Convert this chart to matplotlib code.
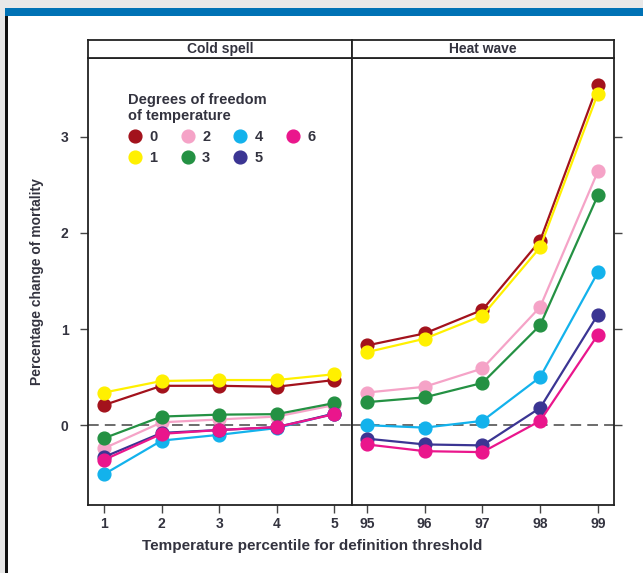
import matplotlib
matplotlib.use("Agg")
import matplotlib.pyplot as plt
from matplotlib.lines import Line2D
from matplotlib.patches import Rectangle

plt.rcParams['font.family'] = ['Liberation Sans', 'DejaVu Sans']
plt.rcParams['font.weight'] = 'bold'
plt.rcParams['axes.labelweight'] = 'bold'

# percentile thresholds for each event type
cold_x = [1, 2, 3, 4, 5]
heat_x = [95, 96, 97, 98, 99]

# degrees of freedom of temperature and their colours
df_labels = ['0', '1', '2', '3', '4', '5', '6']
colors = ['#a3121c', '#fff000', '#f5a3c7', '#249143', '#13b2ec', '#3b3593', '#ea168c']

# percentage change of mortality, cold spell
cold_0 = [0.21, 0.41, 0.41, 0.40, 0.47]
cold_1 = [0.34, 0.46, 0.47, 0.47, 0.53]
cold_2 = [-0.24, 0.03, 0.06, 0.09, 0.21]
cold_3 = [-0.135, 0.09, 0.11, 0.115, 0.23]
cold_4 = [-0.51, -0.16, -0.10, -0.03, 0.12]
cold_5 = [-0.33, -0.08, -0.05, -0.02, 0.12]
cold_6 = [-0.36, -0.09, -0.05, -0.02, 0.115]

# percentage change of mortality, heat wave
heat_0 = [0.83, 0.955, 1.20, 1.92, 3.54]
heat_1 = [0.76, 0.90, 1.14, 1.85, 3.45]
heat_2 = [0.34, 0.40, 0.59, 1.23, 2.64]
heat_3 = [0.24, 0.29, 0.44, 1.04, 2.39]
heat_4 = [0.00, -0.025, 0.045, 0.50, 1.59]
heat_5 = [-0.14, -0.20, -0.21, 0.18, 1.15]
heat_6 = [-0.20, -0.27, -0.28, 0.045, 0.94]

cold = [cold_0, cold_1, cold_2, cold_3, cold_4, cold_5, cold_6]
heat = [heat_0, heat_1, heat_2, heat_3, heat_4, heat_5, heat_6]

txt = '#33333f'
W, H = 643, 573
fig = plt.figure(figsize=(W / 100, H / 100), dpi=100, facecolor='#e8e8e8')

# page frame: white panel, blue top band, black left rule
fig.patches.append(Rectangle((8 / W, 0), 1, 1 - 16 / H, transform=fig.transFigure,
                             facecolor='white', edgecolor='none', zorder=-10))
fig.patches.append(Rectangle((5 / W, 1 - 16 / H), 1, 8 / H, transform=fig.transFigure,
                             facecolor='#0072b5', edgecolor='none', zorder=-10))
fig.patches.append(Rectangle((5 / W, 0), 3 / W, 1 - 16 / H, transform=fig.transFigure,
                             facecolor='#111111', edgecolor='none', zorder=-10))

def px_axes(x0, y0, x1, y1):
    return fig.add_axes([x0 / W, 1 - y1 / H, (x1 - x0) / W, (y1 - y0) / H])

ax1 = px_axes(88, 58, 352, 505)
ax2 = px_axes(352, 58, 614, 505)

for ax, xs, series in [(ax1, cold_x, cold), (ax2, heat_x, heat)]:
    ax.axhline(0, color='#444444', lw=1.1, ls=(0, (7, 4)), zorder=1)
    for ys, c in zip(series, colors):
        ax.plot(xs, ys, color=c, lw=1.6, marker='o', ms=9.2, mec=c, zorder=2)
    ax.set_ylim(-0.83, 3.82)
    ax.set_xticks(xs)
    ax.set_xticklabels([str(v) for v in xs])
    ax.set_yticks([0, 1, 2, 3])
    for s in ax.spines.values():
        s.set_linewidth(1.3)
        s.set_color('#222222')
    ax.tick_params(direction='out', length=6, width=1, color='#444444',
                   labelsize=10, labelcolor=txt, pad=3)

ax1.set_xlim(0.72, 5.31)
ax2.set_xlim(94.74, 99.28)
ax1.tick_params(axis='y', left=True, right=False, labelleft=True, pad=8)
ax2.tick_params(axis='y', left=False, right=True, labelleft=False, labelright=False)

ax1.set_ylabel('Percentage change of mortality', fontsize=10, color=txt, labelpad=12)

fig.text(312 / W, 1 - 546 / H, 'Temperature percentile for definition threshold',
         ha='center', va='center', fontsize=11, color=txt)

# strip headers
for x0, x1, name in [(88, 352, 'Cold spell'), (352, 614, 'Heat wave')]:
    sa = px_axes(x0, 40, x1, 58)
    sa.set_xticks([])
    sa.set_yticks([])
    for s in sa.spines.values():
        s.set_linewidth(1.3)
        s.set_color('#222222')
    sa.text(0.5, 0.5, name, ha='center', va='center', fontsize=10, color=txt,
            transform=sa.transAxes)

handles = [Line2D([], [], ls='none', marker='o', ms=9.2, color=c) for c in colors]
leg = ax1.legend(handles, df_labels, ncol=4, loc='upper left', bbox_to_anchor=(0.1, 0.952),
                 title='Degrees of freedom\nof temperature', frameon=False,
                 handlelength=1.0, handletextpad=0.5, columnspacing=1.55,
                 labelspacing=0.5, fontsize=10.5, alignment='left',
                 title_fontproperties={'size': 10.5, 'weight': 'bold'})
leg.get_title().set_color(txt)
for t in leg.get_texts():
    t.set_color(txt)

fig.savefig('out.png', dpi=100, facecolor=fig.get_facecolor())
